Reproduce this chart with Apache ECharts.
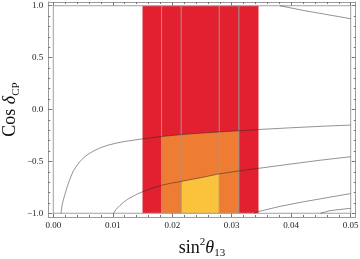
<!DOCTYPE html>
<html>
<head>
<meta charset="utf-8">
<script src="https://cdn.jsdelivr.net/npm/echarts@6/dist/echarts.min.js"></script>
<style>
html,body{margin:0;padding:0;background:#fff;}
#c{width:360px;height:259px;}
</style>
</head>
<body>
<div id="c"></div>
<script>
// ---- data ----
const xMajor = [0, 0.01, 0.02, 0.03, 0.04, 0.05];
const xMajorLabels = ['0.00', '0.01', '0.02', '0.03', '0.04', '0.05'];
const xMinor = [0.002,0.004,0.006,0.008,0.012,0.014,0.016,0.018,0.022,0.024,0.026,0.028,0.032,0.034,0.036,0.038,0.042,0.044,0.046,0.048];
const yMajor = [-1, -0.5, 0, 0.5, 1];
const yMajorLabels = ['\u22121.0', '\u22120.5', '0.0', '0.5', '1.0'];
const yMinor = [-0.9,-0.8,-0.7,-0.6,-0.4,-0.3,-0.2,-0.1,0.1,0.2,0.3,0.4,0.6,0.7,0.8,0.9];

const redBand = [0.015, 0.0345];        // 3 sigma range (full height)
const orangeBand = [0.0182, 0.0312];    // 2 sigma range, up to curve A
const yellowBand = [0.0215, 0.0279];    // 1 sigma range, up to curve B
const verticalLines = [0.0182, 0.0215, 0.0279, 0.0312];

const curveA = [[0.00129,-1],[0.0014,-0.95],[0.0016,-0.89],[0.0019,-0.83],[0.0023,-0.75],[0.0028,-0.67],[0.0033,-0.6],[0.0039,-0.545],[0.0045,-0.5],[0.0052,-0.46],[0.006,-0.425],[0.007,-0.393],[0.008,-0.367],[0.0092,-0.344],[0.0105,-0.325],[0.012,-0.308],[0.0145,-0.287],[0.0182,-0.26],[0.0215,-0.242],[0.025,-0.227],[0.0279,-0.216],[0.0312,-0.205],[0.0345,-0.193],[0.04,-0.176],[0.045,-0.162],[0.05,-0.15]];
const curveB = [[0.0101,-1],[0.0106,-0.96],[0.0112,-0.925],[0.0118,-0.895],[0.0125,-0.865],[0.0133,-0.84],[0.0142,-0.812],[0.0152,-0.788],[0.0165,-0.76],[0.0182,-0.73],[0.02,-0.708],[0.0215,-0.693],[0.025,-0.655],[0.0279,-0.62],[0.0312,-0.592],[0.0345,-0.567],[0.04,-0.525],[0.045,-0.488],[0.05,-0.455]];
const curveC = [[0.0381,1],[0.042,0.955],[0.046,0.915],[0.05,0.875]];
const curveD = [[0.0338,-1],[0.0345,-0.983],[0.038,-0.935],[0.042,-0.89],[0.046,-0.85],[0.05,-0.81]];
const curveE = [[0.0449,-1],[0.0465,-0.975],[0.05,-0.952]];
const plotBox = [[0,-1],[0.05,-1],[0.05,1],[0,1],[0,-1]];

const XMIN = -0.00084, XMAX = 0.05084, YMIN = -1.036, YMAX = 1.036;

const RED = '#e3202f', ORANGE = '#ee7c33', YELLOW = '#fbc33c';
const FRAME = '#9a9a9a';
const SERIF = '"Liberation Serif","DejaVu Serif",serif';

function regionPolygon(x0, x1, topCurve) {
  const top = topCurve ? topCurve.filter(p => p[0] >= x0 - 1e-9 && p[0] <= x1 + 1e-9).slice().reverse()
                       : [[x1, 1], [x0, 1]];
  return [[x0, -1], [x1, -1]].concat(top);
}

function polySeries(pts, color) {
  return {
    type: 'custom', silent: true, z: 1,
    data: [0],
    renderItem: function (params, api) {
      return {
        type: 'polygon',
        shape: { points: pts.map(p => api.coord(p)) },
        style: { fill: color, stroke: null }
      };
    }
  };
}

function lineSeries(data, color, width, z) {
  return {
    type: 'line', data: data, symbol: 'none', silent: true, z: z,
    smooth: false,
    lineStyle: { color: color, width: width }
  };
}

const labelStyle = { fontFamily: SERIF, fontSize: 9, color: '#222' };

function xAx(pos, vals, len, labels, withLine) {
  return {
    type: 'value', position: pos, min: XMIN, max: XMAX,
    axisLine: { show: withLine, onZero: false, lineStyle: { color: FRAME, width: 1 } },
    axisTick: { show: true, inside: true, length: len, customValues: vals, lineStyle: { color: '#777' } },
    axisLabel: labels ? Object.assign({ show: true, margin: 4, customValues: vals,
      formatter: v => xMajorLabels[xMajor.findIndex(m => Math.abs(m - v) < 1e-9)] }, labelStyle) : { show: false },
    splitLine: { show: false }
  };
}
function yAx(pos, vals, len, labels, withLine) {
  return {
    type: 'value', position: pos, min: YMIN, max: YMAX,
    axisLine: { show: withLine, onZero: false, lineStyle: { color: FRAME, width: 1 } },
    axisTick: { show: true, inside: true, length: len, customValues: vals, lineStyle: { color: '#777' } },
    axisLabel: labels ? Object.assign({ show: true, margin: 5, customValues: vals,
      formatter: v => yMajorLabels[yMajor.findIndex(m => Math.abs(m - v) < 1e-9)] }, labelStyle) : { show: false },
    splitLine: { show: false }
  };
}

const xAxes = [xAx('bottom', xMajor, 4, true, true), xAx('bottom', xMinor, 2, false, false),
               xAx('top', xMajor, 4, false, true), xAx('top', xMinor, 2, false, false)];
xAxes[0].name = '{n|sin}{sup|2}{i|\u03b8}{sub|13}';
xAxes[0].nameLocation = 'middle';
xAxes[0].nameGap = 20;
xAxes[0].nameTextStyle = {
  fontFamily: SERIF, color: '#111',
  rich: {
    n: { fontFamily: SERIF, fontSize: 18, color: '#111', lineHeight: 22 },
    i: { fontFamily: SERIF, fontSize: 18, fontStyle: 'italic', color: '#111', lineHeight: 22 },
    sup: { fontFamily: SERIF, fontSize: 11, color: '#111', verticalAlign: 'top', lineHeight: 22 },
    sub: { fontFamily: SERIF, fontSize: 11, color: '#111', verticalAlign: 'bottom', lineHeight: 22, padding: [8, 0, 0, 0] }
  }
};

const yAxes = [yAx('left', yMajor, 4, true, true), yAx('left', yMinor, 2, false, false),
               yAx('right', yMajor, 4, false, true), yAx('right', yMinor, 2, false, false)];
yAxes[0].name = '{n|Cos }{i|\u03b4}{sub|CP}';
yAxes[0].nameLocation = 'middle';
yAxes[0].nameRotate = 90;
yAxes[0].nameGap = 27;
yAxes[0].nameMoveOverlap = false;
yAxes[0].nameTextStyle = {
  fontFamily: SERIF, color: '#111',
  rich: {
    n: { fontFamily: SERIF, fontSize: 18, color: '#111', lineHeight: 22 },
    i: { fontFamily: SERIF, fontSize: 18, fontStyle: 'italic', color: '#111', lineHeight: 22 },
    sub: { fontFamily: SERIF, fontSize: 11, color: '#111', verticalAlign: 'bottom', lineHeight: 22, padding: [8, 0, 0, 0] }
  }
};

const series = [
  polySeries(regionPolygon(redBand[0], redBand[1], null), RED),
  polySeries(regionPolygon(orangeBand[0], orangeBand[1], curveA), ORANGE),
  polySeries(regionPolygon(yellowBand[0], yellowBand[1], curveB), YELLOW)
];
verticalLines.forEach(x => series.push({
  type: 'line', data: [[x, -1], [x, 1]], symbol: 'none', silent: true, z: 3,
  lineStyle: { color: '#9b9b9b', width: 1 }
}));
series.push({ type: 'line', data: plotBox, symbol: 'none', silent: true, z: 3, lineStyle: { color: '#a0a0a0', width: 1 } });
[curveA, curveB, curveC, curveD, curveE].forEach(c => series.push(lineSeries(c, 'rgba(40,40,40,0.5)', 1, 4)));

const chart = echarts.init(document.getElementById('c'), null, { renderer: 'canvas' });
chart.setOption({
  animation: false,
  backgroundColor: '#fff',
  grid: { left: 48.3, right: 4.3, top: 2, bottom: 42, containLabel: false, outerBoundsMode: 'none' },
  xAxis: xAxes,
  yAxis: yAxes,
  series: series
});
</script>
</body>
</html>
